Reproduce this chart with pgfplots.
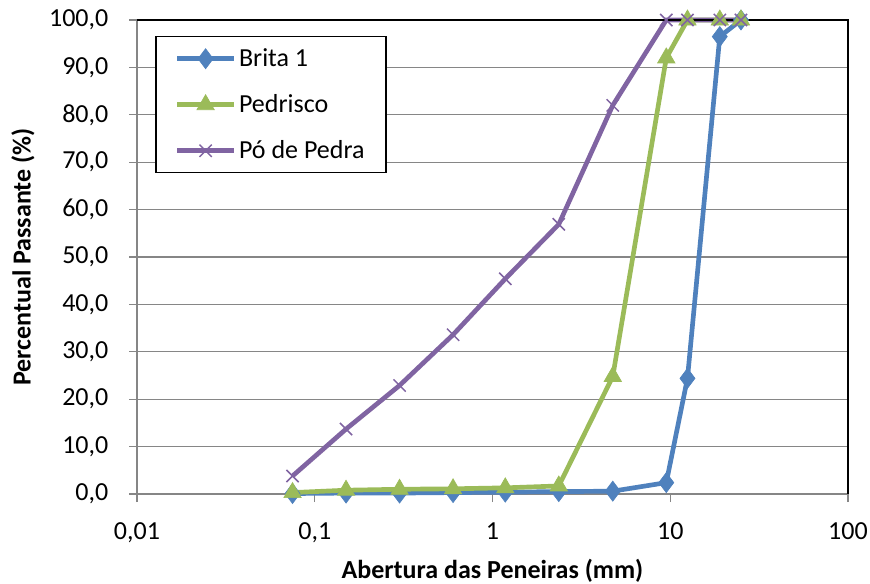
\documentclass[border=0pt]{standalone}
\usepackage{pgfplots}
\pgfplotsset{compat=1.18}
\usepackage{fontspec}
\setmainfont{Carlito}
\definecolor{cblue}{HTML}{4F81BD}
\definecolor{cgreen}{HTML}{9BBB59}
\definecolor{cpurple}{HTML}{8064A2}
\definecolor{axgray}{HTML}{868686}
\begin{document}
\begin{tikzpicture}[x=0.75pt,y=0.75pt]
\path[use as bounding box] (0,0) rectangle (870,583);
\begin{axis}[
  at={(137pt*0.75,89pt*0.75)}, anchor=south west,
  scale only axis, width=533.25pt, height=355.5pt,
  xmode=log, log basis x=10,
  xmin=0.01, xmax=100, ymin=0, ymax=100,
  xtick={0.01,0.1,1,10,100},
  xticklabels={0{,}01,0{,}1,1,10,100},
  ytick={0,10,...,100},
  minor xtick={}, minor ytick={},
  yticklabel style={xshift=-12pt, /pgf/number format/.cd,fixed,fixed zerofill,precision=1,use comma,assume math mode=true},
  xticklabel style={yshift=-12pt},
  ymajorgrids, major grid style={axgray, line width=1pt},
  axis line style={axgray, line width=1pt},
  tick style={axgray, line width=1pt},
  tick align=outside, major tick length=6pt,
  xtick pos=bottom, ytick pos=left,
  tick label style={font=\fontsize{19.5}{22}\selectfont},
  xlabel={\textbf{Abertura das Peneiras (mm)}},
  ylabel={\textbf{Percentual Passante (\%)}},
  label style={font=\fontsize{19.5}{22}\selectfont},
  xlabel style={yshift=-5pt},
  ylabel style={yshift=4pt},
  legend cell align=left,
  legend style={at={(0.026,0.966)}, anchor=north west, draw=black, line width=1pt,
    font=\fontsize{19.5}{22}\selectfont, inner xsep=14pt, inner ysep=7pt,
    row sep=15.5pt, /tikz/every even column/.append style={column sep=4pt}},
  legend image code/.code={\draw[mark repeat=2,mark phase=2] plot coordinates {(0cm,0cm) (0.75cm,0cm) (1.5cm,0cm)};},
  clip=false,
]
\addplot[cblue, line width=3.5pt, mark=diamond*, mark size=7.5pt, mark options={solid, line width=0.5pt}] coordinates {
(0.075,0.1) (0.15,0.2) (0.3,0.2) (0.6,0.3) (1.18,0.4) (2.36,0.5) (4.75,0.6) (9.5,2.4) (12.5,24.4) (19,96.5) (25,100)};
\addlegendentry{Brita 1}
\addplot[cgreen, line width=3.5pt, mark=triangle*, mark size=7.5pt, mark options={solid, line width=0.5pt}] coordinates {
(0.075,0.3) (0.15,0.8) (0.3,1.0) (0.6,1.1) (1.18,1.3) (2.36,1.7) (4.75,24.8) (9.5,92.0) (12.5,100) (19,100) (25,100)};
\addlegendentry{Pedrisco}
\addplot[cpurple, line width=3.5pt, mark=x, mark size=6.5pt, mark options={solid, line width=1.1pt}] coordinates {
(0.075,3.8) (0.15,13.7) (0.3,22.9) (0.6,33.6) (1.18,45.4) (2.36,56.9) (4.75,82.0) (9.5,100) (12.5,100) (19,100) (25,100)};
\addlegendentry{Pó de Pedra\hspace{5pt}}
\draw[black, line width=1.2pt] (rel axis cs:0,1) -- (rel axis cs:1,1) -- (rel axis cs:1,0);
\end{axis}
\end{tikzpicture}
\end{document}
